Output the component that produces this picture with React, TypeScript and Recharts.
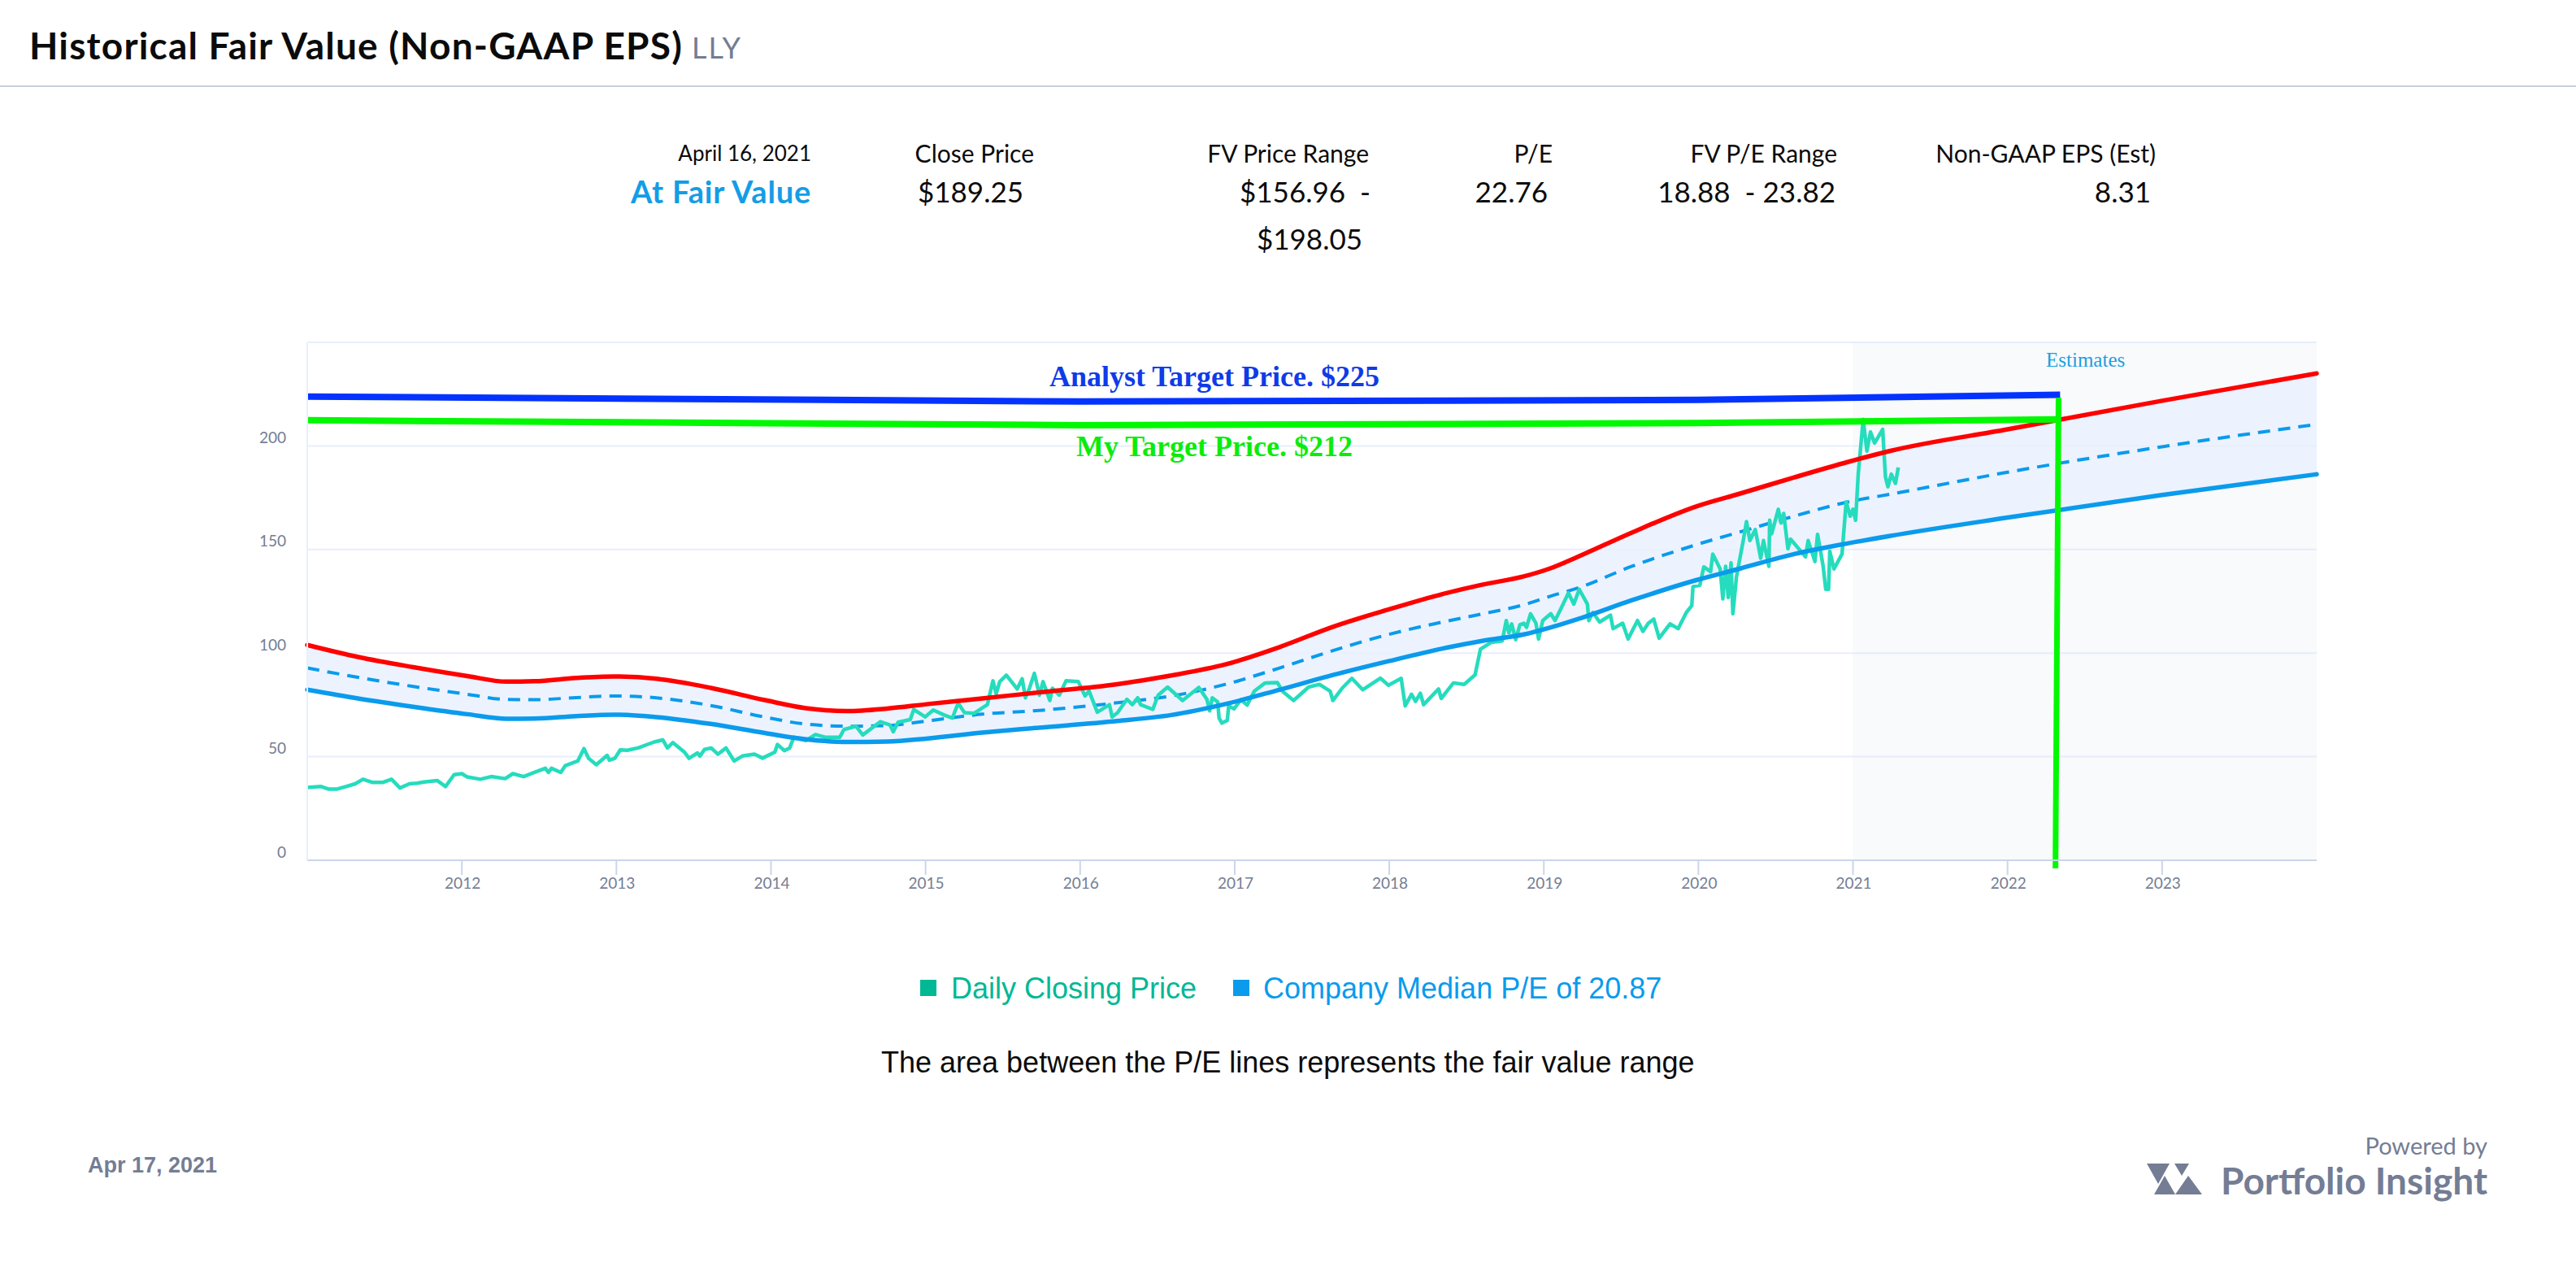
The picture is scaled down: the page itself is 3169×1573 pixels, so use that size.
import React from "react";
import { ComposedChart, Line, Area, XAxis, YAxis, CartesianGrid, ReferenceArea, ReferenceLine } from "recharts";

const fvYears = [2011.0, 2011.335, 2011.685, 2012.036, 2012.29, 2012.47, 2012.74, 2012.98, 2013.26, 2013.61, 2013.96, 2014.226, 2014.49, 2014.75, 2015.015, 2015.366, 2015.716, 2016.24, 2016.59, 2016.94, 2017.29, 2017.64, 2017.99, 2018.345, 2018.6, 2018.87, 2019.045, 2019.22, 2019.57, 2019.99, 2020.27, 2020.62, 2020.97, 2021.236, 2022, 2023, 2024];
const upperFv = [103.9, 98, 93.2, 88.9, 86.2, 86.4, 88, 88.7, 87.6, 83.2, 77.3, 73.4, 72, 73.2, 75.4, 78.1, 80.9, 85, 89.2, 94.5, 102.9, 112.8, 120.9, 128.5, 133, 137, 141, 146.5, 158.2, 170.9, 177, 184.8, 192.3, 197.5, 208, 221.8, 235];
const medianFv = [92.8, 88.2, 83.9, 80.1, 77.6, 77.5, 78.5, 79.3, 78.4, 74.7, 69.1, 65.7, 64.7, 65, 67.3, 70.5, 72.2, 76, 79.3, 84.9, 92.8, 101.3, 108.9, 115, 118.9, 123.3, 127.5, 131.4, 141.9, 152.4, 158.5, 166.1, 173, 176.6, 187.3, 199.6, 210.4];
const lowerFv = [82.3, 78, 74.1, 70.5, 68.3, 68.4, 69.6, 70.3, 69.1, 65.8, 61.4, 58.4, 57.1, 57.3, 58.8, 61.6, 63.9, 67.2, 70.1, 75.4, 82.3, 89.5, 96, 102.2, 105.9, 109, 112.4, 116.4, 125.5, 135.3, 140.8, 147.8, 153, 156.5, 165.4, 176.3, 186.3];

const dailyClose: [number, number][] = [
  [2011.0, 35.1], [2011.09, 35.6], [2011.14, 34.3], [2011.19, 34.3], [2011.25, 35.6], [2011.31, 36.9], [2011.36, 39.1], [2011.42, 37.6], [2011.49, 37.6], [2011.545, 39.1], [2011.6, 34.9], [2011.66, 36.9], [2011.71, 37.2], [2011.755, 37.8], [2011.84, 38.5], [2011.895, 35.6], [2011.95, 41.3],
  [2012.0, 41.8], [2012.035, 40.2], [2012.12, 39.1], [2012.19, 40.4], [2012.28, 39.4], [2012.33, 41.8], [2012.4, 40.4], [2012.47, 42.4], [2012.54, 44.4], [2012.56, 42.4], [2012.58, 44.4], [2012.64, 42.4], [2012.67, 45.7], [2012.75, 47.9], [2012.79, 53.9], [2012.82, 49.2], [2012.87, 46.1], [2012.94, 50.6], [2012.955, 48.3], [2012.99, 49.2],
  [2013.025, 53.3], [2013.07, 53.1], [2013.14, 54.2], [2013.245, 57.1], [2013.3, 58.1], [2013.33, 54.2], [2013.365, 56.8], [2013.44, 52.2], [2013.47, 49.2], [2013.525, 51.8], [2013.54, 50.3], [2013.57, 53.5], [2013.613, 54.2], [2013.657, 51.2], [2013.709, 54.2], [2013.762, 47.9], [2013.815, 50.3], [2013.893, 51.2], [2013.946, 49.3],
  [2014.025, 52.2], [2014.042, 55.9], [2014.086, 52.9], [2014.121, 54.2], [2014.148, 59.4], [2014.226, 57.8], [2014.288, 60.7], [2014.349, 59.4], [2014.445, 59.4], [2014.472, 63.1], [2014.55, 64.7], [2014.594, 60.5], [2014.708, 66.9], [2014.77, 65.3], [2014.791, 62], [2014.822, 66.6], [2014.901, 67.9], [2014.924, 72.8], [2014.997, 69.2],
  [2015.05, 72.5], [2015.12, 70.1], [2015.173, 68.6], [2015.211, 75.8], [2015.252, 71.2], [2015.313, 70.9], [2015.4, 75.1], [2015.436, 86.6], [2015.457, 80.4], [2015.48, 86.2], [2015.523, 89.3], [2015.593, 82.7], [2015.625, 87.6], [2015.646, 78.4], [2015.672, 83], [2015.704, 90.2], [2015.737, 79.7], [2015.76, 86.2], [2015.804, 77.1], [2015.821, 83], [2015.865, 79.7], [2015.909, 86.6], [2015.988, 86.2],
  [2016.032, 79.3], [2016.058, 81.7], [2016.111, 71.5], [2016.19, 75.1], [2016.207, 69.2], [2016.242, 71.2], [2016.303, 77.7], [2016.338, 75.1], [2016.373, 78.4], [2016.391, 75.1], [2016.47, 72.8], [2016.505, 79.7], [2016.566, 83.6], [2016.663, 77.1], [2016.768, 83.4], [2016.82, 77.7], [2016.838, 72.1], [2016.855, 78.4], [2016.89, 76.4], [2016.899, 68.6], [2016.917, 66.2], [2016.952, 67.5], [2016.961, 74.5], [2016.996, 73.1],
  [2017.04, 77.5], [2017.08, 74.9], [2017.127, 81.6], [2017.197, 85.6], [2017.276, 85.8], [2017.311, 81.4], [2017.381, 77.1], [2017.478, 83.6], [2017.548, 84.9], [2017.618, 81.6], [2017.635, 77.1], [2017.697, 83.2], [2017.758, 87.8], [2017.828, 82.3], [2017.942, 87.9], [2017.995, 84.5],
  [2018.077, 87.8], [2018.103, 74.5], [2018.144, 80.1], [2018.17, 76.7], [2018.201, 80.6], [2018.222, 75.1], [2018.319, 82.7], [2018.336, 78.1], [2018.415, 85.6], [2018.485, 84.9], [2018.555, 89.5], [2018.59, 101.9], [2018.66, 105.2], [2018.731, 105.9], [2018.757, 115.7], [2018.774, 109.8], [2018.792, 114.1], [2018.818, 106.5], [2018.845, 113.7], [2018.871, 114.4], [2018.888, 112.4], [2018.914, 119], [2018.949, 114.4], [2018.966, 106.8], [2018.993, 115.7],
  [2019.045, 119], [2019.072, 115.7], [2019.107, 120.9], [2019.159, 129], [2019.194, 123.6], [2019.229, 130.8], [2019.282, 123.6], [2019.291, 115.7], [2019.317, 119.6], [2019.361, 115], [2019.431, 118.3], [2019.448, 111.8], [2019.51, 114.4], [2019.545, 106.8], [2019.606, 115.7], [2019.641, 110.5], [2019.676, 114.4], [2019.711, 116.4], [2019.746, 107.2], [2019.816, 114.1], [2019.869, 111.8], [2019.922, 119.6], [2019.957, 122.9], [2019.965, 132.1],
  [2020.009, 132.7], [2020.035, 141.6], [2020.079, 139.3], [2020.093, 147.8], [2020.141, 140.6], [2020.158, 126.2], [2020.176, 141.9], [2020.193, 126.8], [2020.211, 143.5], [2020.223, 119], [2020.246, 136.7], [2020.29, 154.3], [2020.311, 163.5], [2020.333, 154.3], [2020.368, 159.6], [2020.403, 145.8], [2020.421, 154.3], [2020.456, 141.9], [2020.461, 164.1], [2020.474, 157.6], [2020.517, 169.4], [2020.535, 162.8], [2020.552, 167.4], [2020.579, 150.4], [2020.596, 155], [2020.693, 146.5], [2020.71, 154.3], [2020.754, 144.2], [2020.771, 157.3], [2020.807, 141.9], [2020.824, 130.8], [2020.842, 130.8], [2020.85, 149.1], [2020.877, 140.6], [2020.929, 147.8], [2020.956, 173], [2020.982, 166.1],
  [2021.0, 169.4], [2021.017, 164.1], [2021.034, 186.4], [2021.066, 212.8], [2021.09, 197.5], [2021.113, 206.7], [2021.14, 201.4], [2021.192, 208], [2021.21, 185.1], [2021.226, 180.3], [2021.248, 186.4], [2021.275, 181.9], [2021.293, 189.6],
];

const analystTarget: [number, number][] = [[2011.0, 223.8], [2016, 221.4], [2020, 222.2], [2022.34, 224.7]];
const myTarget: [number, number][] = [[2011.0, 212.4], [2016, 210], [2020, 211], [2022.34, 212.8]];
const targetDrop = [{ x: 2022.33, y: 223.2 }, { x: 2022.31, y: -3.9 }];

const yTicks = [0, 50, 100, 150, 200, 250];
const xTicks = [2012, 2013, 2014, 2015, 2016, 2017, 2018, 2019, 2020, 2021, 2022, 2023];

const headerRow: [string, number, number][] = [["April 16, 2021", 998, 26], ["Close Price", 1272, 30], ["FV Price Range", 1684, 30], ["P/E", 1910, 30], ["FV P/E Range", 2260, 30], ["Non-GAAP EPS (Est)", 2652, 30]];
const valueRow: [string, number][] = [["$189.25", 1259], ["$156.96 \u00a0-", 1686], ["22.76", 1904], ["18.88 \u00a0- 23.82", 2258], ["8.31", 2646]];

const toRows = (pairs: [number, number][]) => pairs.map(([x, v]) => ({ x, v }));
const bandRows = fvYears.map((x, i) => ({ x, range: [lowerFv[i], upperFv[i]] }));
const upperRows = fvYears.map((x, i) => ({ x, v: upperFv[i] }));
const medianRows = fvYears.map((x, i) => ({ x, v: medianFv[i] }));
const lowerRows = fvYears.map((x, i) => ({ x, v: lowerFv[i] }));

const UI = "Lato, sans-serif";
const HELV = "'Liberation Sans', sans-serif";
const SERIF = "'Liberation Serif', serif";
const GREY = "#747d94";

function T({ x, right, y, size, color = "#0b0b0b", font = UI, weight = 400, spacing = 0, children }: any) {
  const style: React.CSSProperties = {
    position: "absolute", top: y, transform: "translateY(-50%)", fontSize: size, lineHeight: 1, color, fontFamily: font,
    fontWeight: weight, letterSpacing: spacing, whiteSpace: "nowrap",
  };
  if (right !== undefined) style.right = 3169 - right; else style.left = x;
  return <div style={style}>{children}</div>;
}

const YTick = (p: any) => p.payload.value === 250 ? <g /> : (
  <text x={352} y={p.y - 11} textAnchor="end" dominantBaseline="central" fontFamily={UI} fontSize={19} fill={GREY}>{p.payload.value}</text>
);
const XTick = (p: any) => (
  <text x={p.x + 1} y={1085} textAnchor="middle" dominantBaseline="central" fontFamily={UI} fontSize={19} fill={GREY}>{p.payload.value}</text>
);

export default function App() {
  return (
    <div style={{ position: "absolute", left: 0, top: 0, width: 3169, height: 1573, background: "#fff", overflow: "hidden" }}>
      <T x={36} y={56} size={46} weight={700} spacing={1.2}>Historical Fair Value (Non-GAAP EPS)</T>
      <T x={851} y={58} size={36} color={GREY} spacing={2}>LLY</T>
      <div style={{ position: "absolute", left: 0, top: 105, width: 3169, height: 2, background: "#c5d0dd" }} />

      {headerRow.map(([label, r, s]) => <T key={label} right={r} y={188} size={s}>{label}</T>)}
      <T right={998} y={235} size={38} color="#139de6" weight={700} spacing={0.8}>At Fair Value</T>
      {valueRow.map(([label, r]) => <T key={label} right={r} y={235} size={35}>{label}</T>)}
      <T right={1676} y={293} size={35}>$198.05</T>

      <ComposedChart
        width={3169}
        height={1573}
        style={{ position: "absolute", left: 0, top: 0 }}
        margin={{ left: 318, top: 421, right: 319, bottom: 465 }}
      >
        <CartesianGrid horizontal vertical={false} stroke="#e8eefb" strokeWidth={2} />
        <XAxis type="number" dataKey="x" domain={[2011, 2024]} ticks={xTicks} height={50} tickSize={18} stroke="#cbd5ea" strokeWidth={2} tick={XTick} interval={0} allowDecimals />
        <YAxis type="number" domain={[0, 250]} ticks={yTicks} width={60} tickLine={false} axisLine={{ stroke: "#e8eefb", strokeWidth: 2 }} tick={YTick} interval={0} />
        <ReferenceArea x1={2021} x2={2024} y1={0} y2={250} fill="#dfe6f2" fillOpacity={0.22} stroke="none" />
        <Area data={bandRows} dataKey="range" type="monotone" stroke="none" fill="#e8f0fe" fillOpacity={0.8} isAnimationActive={false} dot={false} activeDot={false} />
        <Line data={medianRows} dataKey="v" type="monotone" stroke="#0a9bec" strokeWidth={4} strokeDasharray="15 10" dot={false} activeDot={false} isAnimationActive={false} />
        <Line data={toRows(dailyClose)} dataKey="v" type="linear" stroke="#25dcbd" strokeWidth={4.5} strokeLinejoin="round" dot={false} activeDot={false} isAnimationActive={false} />
        <Line data={lowerRows} dataKey="v" type="monotone" stroke="#0a9bec" strokeWidth={5.5} strokeLinecap="round" dot={false} activeDot={false} isAnimationActive={false} />
        <Line data={upperRows} dataKey="v" type="monotone" stroke="#ff0000" strokeWidth={5.5} strokeLinecap="round" dot={false} activeDot={false} isAnimationActive={false} />
        <Line data={toRows(analystTarget)} dataKey="v" type="linear" stroke="#0433ff" strokeWidth={8} dot={false} activeDot={false} isAnimationActive={false} />
        <Line data={toRows(myTarget)} dataKey="v" type="linear" stroke="#00f900" strokeWidth={8} dot={false} activeDot={false} isAnimationActive={false} />
        <ReferenceLine segment={targetDrop} ifOverflow="visible" stroke="#00f900" strokeWidth={7} />
      </ComposedChart>

      <T x={1291} y={463} size={36} font={SERIF} weight={700} color="#0f3be8">Analyst Target Price. $225</T>
      <T x={1324} y={549} size={36} font={SERIF} weight={700} color="#0bec0b">My Target Price. $212</T>
      <T x={2517} y={442} size={25} font={SERIF} color="#1c9fe0">Estimates</T>

      <div style={{ position: "absolute", left: 1132, top: 1205, width: 20, height: 20, background: "#00b894" }} />
      <T x={1170} y={1216} size={36} font={HELV} color="#00b894">Daily Closing Price</T>
      <div style={{ position: "absolute", left: 1517, top: 1205, width: 20, height: 20, background: "#0a9bec" }} />
      <T x={1554} y={1216} size={36} font={HELV} color="#0a9bec">Company Median P/E of 20.87</T>
      <T x={1084} y={1307} size={36} font={HELV} color="#0b0b0b">The area between the P/E lines represents the fair value range</T>

      <T x={108} y={1433} size={27} font={HELV} weight={700} color={GREY}>Apr 17, 2021</T>
      <T right={3060} y={1408} size={29} color={GREY}>Powered by</T>
      <T right={3060} y={1452} size={46} weight={700} color={GREY}>Portfolio Insight</T>
      <svg style={{ position: "absolute", left: 2640, top: 1430, width: 70, height: 40 }} viewBox="0 0 70 40" fill={GREY}>
        <polygon points="1,1 29,1 15,26" />
        <polygon points="35,1 53,1 44,16" />
        <polygon points="10,39 36,39 23,16" />
        <polygon points="36,39 69,39 52,16" />
      </svg>
    </div>
  );
}
